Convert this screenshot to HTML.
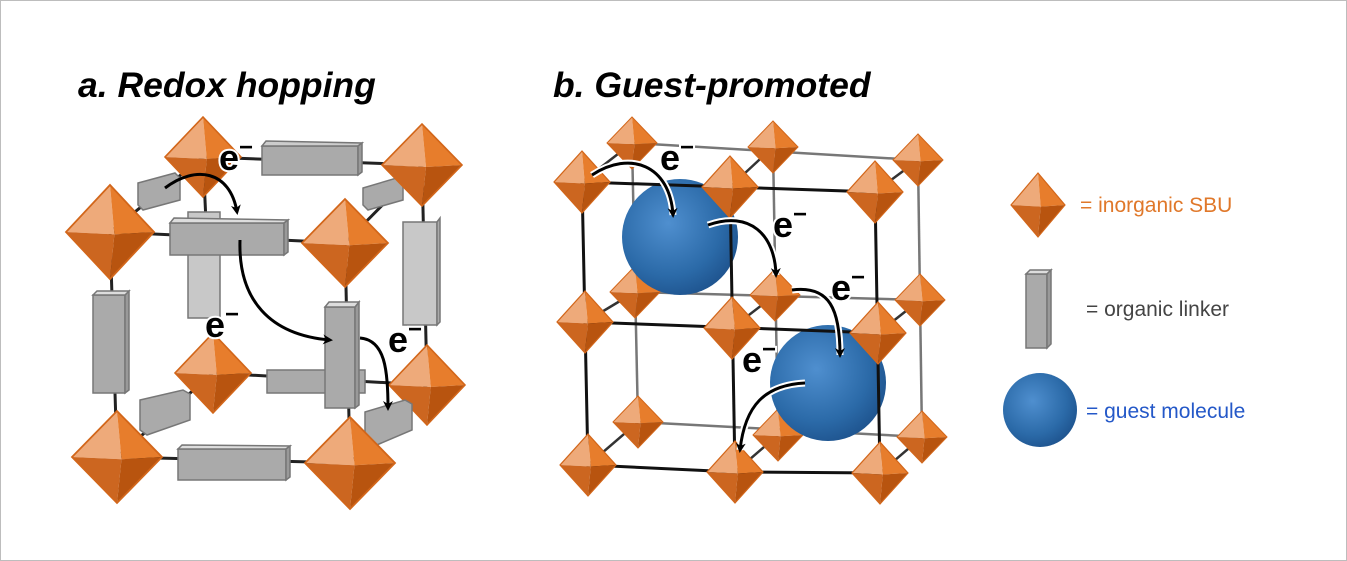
<!DOCTYPE html>
<html><head><meta charset="utf-8"><style>
html,body{margin:0;padding:0;background:#fff}
svg{display:block}
</style></head><body>
<svg width="1347" height="561" viewBox="0 0 1347 561" xmlns="http://www.w3.org/2000/svg">
<defs>
<g id="oct">
<polygon points="-1,0 0,-1 0.1,0.05" fill="#eeaa7a"/>
<polygon points="0,-1 1,0 0.1,0.05" fill="#e77d2c"/>
<polygon points="-1,0 0.1,0.05 0,1" fill="#cc6620"/>
<polygon points="0.1,0.05 1,0 0,1" fill="#b8540f"/>
<polygon points="-1,0 0,-1 1,0 0,1" fill="none" stroke="#d2661a" stroke-width="0.04"/>
</g>
<radialGradient id="sph" cx="0.4" cy="0.38" r="0.65">
<stop offset="0" stop-color="#4f8fcf"/><stop offset="0.7" stop-color="#2b6aa8"/><stop offset="1" stop-color="#1f5590"/>
</radialGradient>
<marker id="ah" markerWidth="10" markerHeight="10" refX="7" refY="5" orient="auto" markerUnits="userSpaceOnUse">
<path d="M0,0 L10,5 L0,10 L3,5 z" fill="#000"/>
</marker>
</defs>
<rect x="0.5" y="0.5" width="1346" height="560" fill="#fff" stroke="#bdbdbd"/>

<text x="78" y="97" font-family="Liberation Sans, sans-serif" font-weight="bold" font-style="italic" font-size="35.5">a. Redox hopping</text>
<text x="553" y="97" font-family="Liberation Sans, sans-serif" font-weight="bold" font-style="italic" font-size="35.5">b. Guest-promoted</text>

<!-- Panel a -->
<g stroke="#222" stroke-width="3">
<line x1="203" y1="157" x2="422" y2="165"/>
<line x1="110" y1="232" x2="345" y2="243"/>
<line x1="117" y1="457" x2="350" y2="463"/>
<line x1="213" y1="373" x2="427" y2="385"/>
<line x1="110" y1="232" x2="117" y2="457"/>
<line x1="345" y1="243" x2="350" y2="463"/>
<line x1="422" y1="165" x2="427" y2="385"/>
<line x1="203" y1="157" x2="213" y2="373"/>
<line x1="110" y1="232" x2="203" y2="157"/>
<line x1="345" y1="243" x2="422" y2="165"/>
<line x1="117" y1="457" x2="213" y2="373"/>
<line x1="350" y1="463" x2="427" y2="385"/>
</g>
<g stroke="#777" stroke-width="1.5">
<rect x="262" y="146" width="96" height="29" fill="#aaa"/><polygon points="262,146 266,141 362,143 358,146" fill="#ccc"/><polygon points="358,146 362,143 362,172 358,175" fill="#999"/>
<rect x="188" y="212" width="32" height="106" fill="#c8c8c8"/>
<rect x="403" y="222" width="34" height="103" fill="#c8c8c8"/><polygon points="437,222 440,218 440,322 437,325" fill="#aaa"/>
<rect x="267" y="370" width="98" height="23" fill="#aaa"/>
<polygon points="138,183 175,173 180,178 180,200 143,210 138,205" fill="#aaa"/>
<polygon points="363,188 400,177 403,182 403,200 368,210 363,205" fill="#aaa"/>
</g>
<use href="#oct" transform="translate(203,157) scale(38,40)"/>
<use href="#oct" transform="translate(422,165) scale(40,41)"/>
<use href="#oct" transform="translate(213,373) scale(38,40)"/>
<use href="#oct" transform="translate(427,385) scale(38,40)"/>
<g stroke="#777" stroke-width="1.5">
<polygon points="140,400 183,390 190,394 190,420 147,435 140,430" fill="#aaa"/>
<polygon points="365,412 405,400 412,404 412,430 372,447 365,442" fill="#aaa"/>
<rect x="170" y="223" width="114" height="32" fill="#aaa"/><polygon points="170,223 174,218 288,220 284,223" fill="#ddd"/><polygon points="284,223 288,220 288,252 284,255" fill="#999"/>
<rect x="93" y="295" width="32" height="98" fill="#aaa"/><polygon points="125,295 129,291 129,390 125,393" fill="#999"/><polygon points="93,295 97,291 129,291 125,295" fill="#ddd"/>
<rect x="325" y="307" width="30" height="101" fill="#aaa"/><polygon points="355,307 359,302 359,405 355,408" fill="#999"/><polygon points="325,307 329,302 359,302 355,307" fill="#ddd"/>
<rect x="178" y="449" width="108" height="31" fill="#aaa"/><polygon points="178,449 182,445 290,446 286,449" fill="#ddd"/><polygon points="286,449 290,446 290,477 286,480" fill="#999"/>
</g>
<use href="#oct" transform="translate(110,232) scale(44,47)"/>
<use href="#oct" transform="translate(345,243) scale(43,44)"/>
<use href="#oct" transform="translate(117,457) scale(45,46)"/>
<use href="#oct" transform="translate(350,463) scale(45,46)"/>
<g fill="none" stroke="#000" stroke-width="3" marker-end="url(#ah)">
<path d="M165,188 C195,165 230,170 237,212"/>
<path d="M240,240 C238,300 270,335 330,340"/>
<path d="M360,338 C385,340 388,370 388,408"/>
</g>
<g font-family="Liberation Sans, sans-serif" font-weight="bold" font-size="36" fill="#000" stroke="#fff" stroke-width="4" paint-order="stroke">
<text x="219" y="170">e<tspan dy="-15" font-size="24">−</tspan></text>
<text x="205" y="337">e<tspan dy="-15" font-size="24">−</tspan></text>
<text x="388" y="352">e<tspan dy="-15" font-size="24">−</tspan></text>
</g>

<!-- Panel b -->
<g stroke="#777" stroke-width="2.5">
<line x1="632" y1="143" x2="918" y2="160"/>
<line x1="635" y1="292" x2="920" y2="300"/>
<line x1="638" y1="422" x2="922" y2="437"/>
<line x1="632" y1="143" x2="638" y2="422"/>
<line x1="773" y1="147" x2="778" y2="435"/>
<line x1="918" y1="160" x2="922" y2="437"/>
</g>
<g stroke="#333" stroke-width="2.5">
<line x1="582" y1="182" x2="632" y2="143"/><line x1="730" y1="187" x2="773" y2="147"/><line x1="875" y1="192" x2="918" y2="160"/>
<line x1="585" y1="322" x2="635" y2="292"/><line x1="732" y1="328" x2="775" y2="295"/><line x1="878" y1="333" x2="920" y2="300"/>
<line x1="588" y1="465" x2="638" y2="422"/><line x1="735" y1="472" x2="778" y2="435"/><line x1="880" y1="473" x2="922" y2="437"/>
</g>
<use href="#oct" transform="translate(632,143) scale(25,26)"/>
<use href="#oct" transform="translate(773,147) scale(25,26)"/>
<use href="#oct" transform="translate(918,160) scale(25,26)"/>
<use href="#oct" transform="translate(635,292) scale(25,26)"/>
<use href="#oct" transform="translate(775,295) scale(25,26)"/>
<use href="#oct" transform="translate(920,300) scale(25,26)"/>
<use href="#oct" transform="translate(638,422) scale(25,26)"/>
<use href="#oct" transform="translate(778,435) scale(25,26)"/>
<use href="#oct" transform="translate(922,437) scale(25,26)"/>
<circle cx="680" cy="237" r="58" fill="url(#sph)"/>
<circle cx="828" cy="383" r="58" fill="url(#sph)"/>
<g stroke="#111" stroke-width="3" fill="none">
<polyline points="582,182 730,187 875,192 880,473 735,472 588,465 582,182"/>
<line x1="585" y1="322" x2="878" y2="333"/>
<line x1="730" y1="187" x2="735" y2="472"/>
</g>
<use href="#oct" transform="translate(582,182) scale(28,31)"/>
<use href="#oct" transform="translate(730,187) scale(28,31)"/>
<use href="#oct" transform="translate(875,192) scale(28,31)"/>
<use href="#oct" transform="translate(585,322) scale(28,31)"/>
<use href="#oct" transform="translate(732,328) scale(28,31)"/>
<use href="#oct" transform="translate(878,333) scale(28,31)"/>
<use href="#oct" transform="translate(588,465) scale(28,31)"/>
<use href="#oct" transform="translate(735,472) scale(28,31)"/>
<use href="#oct" transform="translate(880,473) scale(28,31)"/>
<g fill="none" stroke="#fff" stroke-width="7">
<path d="M592,175 C630,150 670,165 673,215"/>
<path d="M708,225 C750,210 775,235 776,275"/>
<path d="M792,290 C830,285 840,310 840,355"/>
<path d="M805,383 C765,385 745,405 740,450"/>
</g>
<g fill="none" stroke="#000" stroke-width="3" marker-end="url(#ah)">
<path d="M592,175 C630,150 670,165 673,215"/>
<path d="M708,225 C750,210 775,235 776,275"/>
<path d="M792,290 C830,285 840,310 840,355"/>
<path d="M805,383 C765,385 745,405 740,450"/>
</g>
<g font-family="Liberation Sans, sans-serif" font-weight="bold" font-size="36" fill="#000" stroke="#fff" stroke-width="4" paint-order="stroke">
<text x="660" y="170">e<tspan dy="-15" font-size="24">−</tspan></text>
<text x="773" y="237">e<tspan dy="-15" font-size="24">−</tspan></text>
<text x="831" y="300">e<tspan dy="-15" font-size="24">−</tspan></text>
<text x="742" y="372">e<tspan dy="-15" font-size="24">−</tspan></text>
</g>

<!-- Legend -->
<use href="#oct" transform="translate(1038,205) scale(27,32)"/>
<text x="1080" y="212" font-family="Liberation Sans, sans-serif" font-size="21" fill="#e0782a">= inorganic SBU</text>
<g stroke="#777" stroke-width="1.5">
<rect x="1026" y="274" width="21" height="74" fill="#aaa"/>
<polygon points="1026,274 1030,270 1051,270 1047,274" fill="#ddd"/>
<polygon points="1047,274 1051,270 1051,344 1047,348" fill="#999"/>
</g>
<text x="1086" y="316" font-family="Liberation Sans, sans-serif" font-size="21" fill="#444">= organic linker</text>
<circle cx="1040" cy="410" r="37" fill="url(#sph)"/>
<text x="1086" y="418" font-family="Liberation Sans, sans-serif" font-size="21" fill="#2458c8">= guest molecule</text>
</svg>
</body></html>
